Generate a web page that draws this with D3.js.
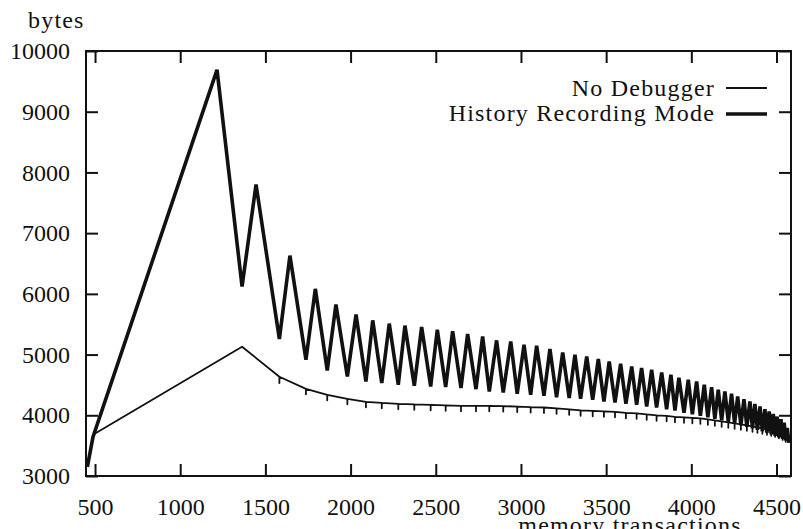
<!DOCTYPE html>
<html>
<head>
<meta charset="utf-8">
<script src="https://cdn.jsdelivr.net/npm/d3@7"></script>
<style>
body { margin: 0; background: #fff; }
svg { display: block; }
text { font-family: "Liberation Serif", "DejaVu Serif", serif; font-size: 24px; fill: #111; }
.words { letter-spacing: 1.2px; }
</style>
</head>
<body>
<svg width="803" height="529"></svg>
<script>
// History Recording Mode: start, then alternating peak / trough
var historyX = [455, 488,
  1216, 1363, 1445, 1582, 1644, 1738, 1793, 1863, 1914, 1981,
  2032, 2090, 2130, 2183, 2227, 2280, 2319, 2374, 2417, 2470,
  2509, 2558, 2599, 2648, 2687, 2736, 2775, 2814, 2857, 2896,
  2940, 2978, 3018, 3057, 3092, 3135, 3170, 3209, 3245, 3283,
  3317, 3350, 3386, 3421, 3454, 3487, 3518, 3552, 3585, 3616,
  3650, 3679, 3708, 3738, 3767, 3796, 3826, 3855, 3880, 3904,
  3927, 3957, 3982, 4006, 4031, 4053, 4076, 4097, 4119, 4138,
  4158, 4178, 4197, 4217, 4236, 4254, 4272, 4291, 4309, 4326,
  4344, 4359, 4373, 4388, 4403, 4417, 4432, 4444, 4457, 4469,
  4481, 4492, 4504, 4514, 4526, 4536, 4545, 4554, 4563, 4573]
var historyY = [3150, 3645,
  9690, 6120, 7800, 5257, 6630, 4915, 6082, 4739, 5823, 4639,
  5658, 4557, 5564, 4530, 5510, 4502, 5477, 4486, 5455, 4474,
  5410, 4464, 5383, 4448, 5339, 4431, 5300, 4392, 5234, 4375,
  5217, 4354, 5163, 4337, 5146, 4321, 5092, 4299, 5036, 4283,
  4998, 4271, 4970, 4255, 4927, 4227, 4887, 4210, 4849, 4189,
  4805, 4172, 4778, 4144, 4750, 4128, 4706, 4101, 4668, 4078,
  4618, 4040, 4585, 4015, 4557, 3991, 4502, 3966, 4464, 3941,
  4420, 3916, 4392, 3892, 4354, 3867, 4309, 3834, 4266, 3809,
  4227, 3784, 4189, 3759, 4144, 3735, 4101, 3710, 4062, 3685,
  4024, 3660, 3979, 3636, 3936, 3611, 3880, 3586, 3792, 3545]

// No Debugger: vertices, with a small dip (null = none) at each collection
var noDebugX = [488, 1363,
  1582, 1738, 1863, 1981, 2090, 2183, 2280, 2374, 2470, 2558,
  2648, 2736, 2814, 2896, 2978, 3057, 3135, 3209, 3283, 3350,
  3421, 3487, 3552, 3616, 3679, 3738, 3796, 3855, 3904, 3957,
  4006, 4053, 4097, 4138, 4178, 4217, 4254, 4291, 4326, 4359,
  4388, 4417, 4444, 4469, 4492, 4514, 4536, 4554, 4570]
var noDebugY = [3680, 5130,
  4634, 4436, 4337, 4271, 4222, 4205, 4189, 4180, 4172, 4164,
  4156, 4156, 4156, 4151, 4144, 4134, 4128, 4114, 4098, 4081,
  4073, 4065, 4057, 4040, 4032, 4015, 3999, 3991, 3974, 3966,
  3958, 3949, 3933, 3916, 3900, 3883, 3867, 3850, 3834, 3817,
  3801, 3784, 3768, 3751, 3735, 3710, 3685, 3652, 3594]
var noDebugDip = [null, null,
  4530, 4346, 4247, 4181, 4132, 4115, 4099, 4090, 4082, 4074,
  4066, 4066, 4066, 4061, 4054, 4044, 4038, 4024, 4008, 3991,
  3983, 3975, 3967, 3950, 3942, 3925, 3909, 3901, 3884, 3876,
  3868, 3859, 3843, 3826, 3810, 3793, 3777, 3760, 3744, 3727,
  3711, 3694, 3678, 3661, 3645, 3620, 3595, 3562, null]

var xTicks = [500, 1000, 1500, 2000, 2500, 3000, 3500, 4000, 4500]
var yTicks = [3000, 4000, 5000, 6000, 7000, 8000, 9000, 10000]

var svg = d3.select("svg")
var mLeft = 86, mRight = 791, mTop = 51, mBottom = 476

var x = d3.scaleLinear().domain([447, 4585]).range([mLeft, mRight])
var y = d3.scaleLinear().domain([3000, 10000]).range([mBottom, mTop])

var line = d3.line()
  .x(function (d) { return x(d[0]) })
  .y(function (d) { return y(d[1]) })

var fmt = d3.format("d")

// axes, ticks pointing inward
function styleAxis (g) {
  g.select(".domain").remove()
  g.selectAll(".tick line").attr("stroke", "#111").attr("stroke-width", 2)
  g.attr("font-family", null).attr("font-size", null)
  g.selectAll("text").attr("fill", null)
}

svg.append("g").attr("transform", "translate(" + mLeft + ",0)")
  .call(d3.axisLeft(y).tickValues(yTicks).tickFormat(fmt).tickSizeInner(-12).tickSizeOuter(0).tickPadding(16))
  .call(styleAxis)
svg.append("g").attr("transform", "translate(" + mRight + ",0)")
  .call(d3.axisRight(y).tickValues(yTicks).tickSizeInner(-12).tickSizeOuter(0).tickFormat(""))
  .call(styleAxis)
svg.append("g").attr("transform", "translate(0," + mBottom + ")")
  .call(d3.axisBottom(x).tickValues(xTicks).tickFormat(fmt).tickSizeInner(-12).tickSizeOuter(0).tickPadding(22))
  .call(styleAxis)
svg.append("g").attr("transform", "translate(0," + mTop + ")")
  .call(d3.axisTop(x).tickValues(xTicks).tickSizeInner(-12).tickSizeOuter(0).tickFormat(""))
  .call(styleAxis)

svg.append("rect")
  .attr("x", mLeft).attr("y", mTop)
  .attr("width", mRight - mLeft).attr("height", mBottom - mTop)
  .attr("fill", "none").attr("stroke", "#111").attr("stroke-width", 2)

// series
var noDebugPts = []
noDebugX.forEach(function (v, i) {
  noDebugPts.push([v, noDebugY[i]])
  if (noDebugDip[i] != null) {
    noDebugPts.push([v, noDebugDip[i]])
    noDebugPts.push([v, noDebugY[i]])
  }
})

svg.append("path")
  .datum(noDebugPts)
  .attr("d", line)
  .attr("fill", "none").attr("stroke", "#111")
  .attr("stroke-width", 1.8).attr("stroke-linejoin", "round")

svg.append("path")
  .datum(historyX.map(function (v, i) { return [v, historyY[i]] }))
  .attr("d", line)
  .attr("fill", "none").attr("stroke", "#111")
  .attr("stroke-width", 3.6).attr("stroke-linejoin", "miter").attr("stroke-miterlimit", 3)

// legend
svg.append("text").attr("class", "words").attr("x", 715).attr("y", 96).attr("text-anchor", "end").text("No Debugger")
svg.append("line").attr("x1", 726).attr("x2", 767).attr("y1", 88).attr("y2", 88)
  .attr("stroke", "#111").attr("stroke-width", 1.8)
svg.append("text").attr("class", "words").attr("x", 715).attr("y", 121).attr("text-anchor", "end").text("History Recording Mode")
svg.append("line").attr("x1", 726).attr("x2", 767).attr("y1", 114).attr("y2", 114)
  .attr("stroke", "#111").attr("stroke-width", 3.6)

// axis titles
svg.append("text").attr("class", "words").attr("x", 28).attr("y", 28).text("bytes")
svg.append("text").attr("class", "words").attr("x", 630).attr("y", 533).attr("text-anchor", "middle").text("memory transactions")
</script>
</body>
</html>
